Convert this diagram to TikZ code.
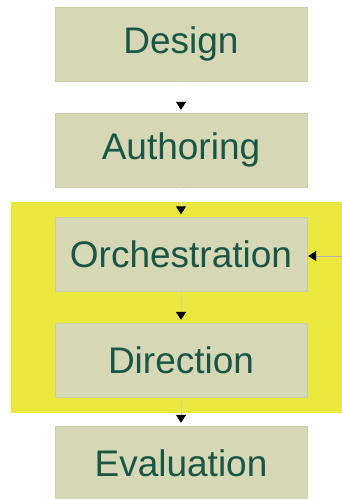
\documentclass[tikz,border=0pt]{standalone}
\usepackage{fontspec}
\setmainfont{Liberation Sans}
\usetikzlibrary{arrows.meta}
\definecolor{boxfill}{HTML}{D6D8B5}
\definecolor{boxline}{HTML}{C9CCA6}
\definecolor{stagetext}{HTML}{1A5646}
\definecolor{runzone}{HTML}{EAE83D}
\definecolor{linkline}{HTML}{D3D88A}
\tikzset{
    stage/.style={draw=boxline, fill=boxfill, text=stagetext, minimum width=252pt,
        minimum height=74pt, inner sep=0pt, font=\fontsize{37}{40}\selectfont},
    link/.style={draw=linkline, line width=1pt, shorten >=3pt,
        -{Triangle[black,width=10pt,length=8pt]}}
}
\begin{document}
\begin{tikzpicture}[x=1pt, y=1pt]
    \useasboundingbox (0, 0) rectangle (342, -499);
    % running zone
    \fill [runzone] (11, -202) rectangle (342, -413);
    \node[stage] (design) at (181, -44) {Design};
    \node[stage] (authoring) at (181, -150) {Authoring};
    \node[stage] (orchestration) at (181, -254.5) {Orchestration};
    \node[stage] (direction) at (181, -360) {Direction};
    \node[stage] (evaluation) at (181, -463) {Evaluation};
    \coordinate (feedback) at (342, -256);
    \draw[link, draw=white] (design) -- (authoring);
    \draw[link, draw=white] (authoring) -- (orchestration);
    \draw[link] (orchestration) -- (direction);
    \draw[link] (direction) -- (evaluation);
    \draw[link, draw=gray!60, shorten >=1pt] (feedback) -- (feedback -| orchestration.east);
\end{tikzpicture}
\end{document}
